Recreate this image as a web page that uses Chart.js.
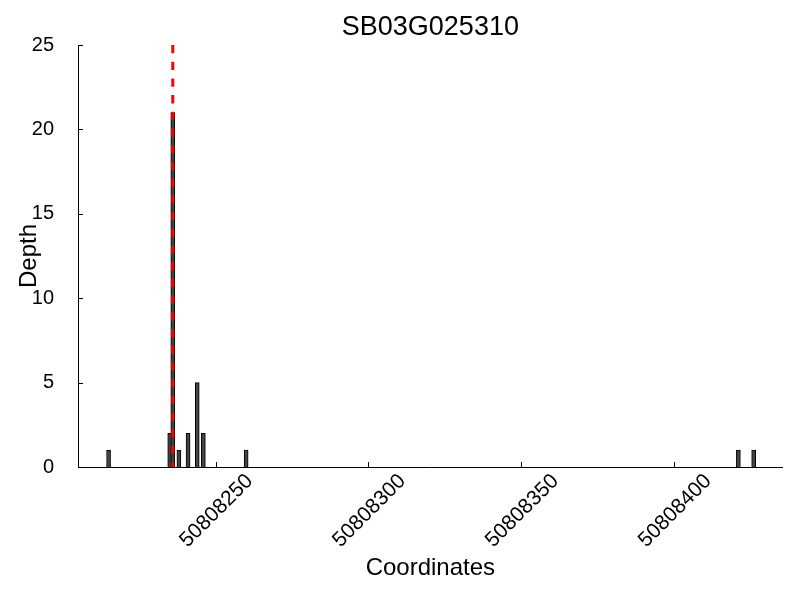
<!DOCTYPE html>
<html>
<head>
<meta charset="utf-8">
<script src="https://cdn.jsdelivr.net/npm/chart.js@4.4.1/dist/chart.umd.min.js"></script>
<style>
  html, body { margin: 0; padding: 0; background: #fff; }
</style>
</head>
<body>
<canvas id="depthChart" width="800" height="600"></canvas>
<script>
// values
const coords = [50808215, 50808235, 50808236, 50808238, 50808241, 50808244, 50808246, 50808260, 50808421, 50808426];
const depths = [1, 2, 21, 1, 2, 5, 2, 1, 1, 1];
const markerPos = 50808236;
const xTicks = [50808250, 50808300, 50808350, 50808400];
const yTicks = [0, 5, 10, 15, 20, 25];

Chart.defaults.color = '#000';
Chart.defaults.font.family = '"Liberation Sans", Arial, sans-serif';

// matplotlib-style ticks pointing into the plot
const innerTicks = {
    id: 'innerTicks',
    afterDraw(chart) {
        const { ctx, chartArea, scales } = chart;
        ctx.save();
        ctx.strokeStyle = '#000';
        ctx.lineWidth = 1;
        scales.x.ticks.forEach(t => {
            const px = Math.round(scales.x.getPixelForValue(t.value)) + 0.5;
            ctx.beginPath();
            ctx.moveTo(px, chartArea.bottom);
            ctx.lineTo(px, chartArea.bottom - 5);
            ctx.stroke();
        });
        scales.y.ticks.forEach(t => {
            const py = Math.round(scales.y.getPixelForValue(t.value)) + 0.5;
            ctx.beginPath();
            ctx.moveTo(chartArea.left, py);
            ctx.lineTo(chartArea.left + 5, py);
            ctx.stroke();
        });
        ctx.restore();
    }
};

const ctx = document.getElementById('depthChart').getContext('2d');
new Chart(ctx, {
    type: 'bar',
    data: {
        datasets: [
            {
                type: 'line',
                data: [{ x: markerPos, y: yTicks[yTicks.length - 1] }, { x: markerPos, y: 0 }],
                borderColor: '#ff0000',
                borderWidth: 3,
                borderDash: [8.3, 8.4],
                pointRadius: 0,
                order: 0
            },
            {
                data: coords.map((c, i) => ({ x: c, y: depths[i] })),
                backgroundColor: '#444444',
                borderColor: '#000000',
                borderWidth: 1,
                barThickness: 4,
                order: 1
            }
        ]
    },
    options: {
        responsive: false,
        animation: false,
        layout: { padding: { left: 0, right: 17.3, top: 0, bottom: 0 } },
        plugins: {
            legend: { display: false },
            tooltip: { enabled: false },
            title: {
                display: true,
                fullSize: false,
                text: 'SB03G025310',
                font: { size: 27, weight: 'normal' },
                padding: { top: 11.8, bottom: 0.8 }
            }
        },
        scales: {
            x: {
                type: 'linear',
                offset: false,
                min: 50808205,
                max: 50808435.5,
                grid: { display: false },
                border: { display: true, color: '#000', width: 1 },
                afterBuildTicks: s => { s.ticks = xTicks.map(v => ({ value: v })); },
                afterFit: s => { s.height = 133; s.paddingLeft = 0; s.paddingRight = 0; },
                ticks: {
                    minRotation: 45,
                    maxRotation: 45,
                    autoSkip: false,
                    labelOffset: 34,
                    padding: -6,
                    font: { size: 21 },
                    callback: v => String(v)
                },
                title: {
                    display: true,
                    text: 'Coordinates',
                    font: { size: 24 },
                    padding: { top: 0, bottom: 17.6 }
                }
            },
            y: {
                min: 0,
                max: 25,
                grid: { display: false },
                border: { display: true, color: '#000', width: 1 },
                afterBuildTicks: s => { s.ticks = yTicks.map(v => ({ value: v })); },
                afterFit: s => { s.width = 78; s.paddingTop = 0; s.paddingBottom = 0; },
                ticks: {
                    padding: 16,
                    font: { size: 20 }
                },
                title: {
                    display: true,
                    text: 'Depth',
                    font: { size: 24 },
                    padding: { top: 14.5, bottom: 0 }
                }
            }
        }
    },
    plugins: [innerTicks]
});
</script>
</body>
</html>
